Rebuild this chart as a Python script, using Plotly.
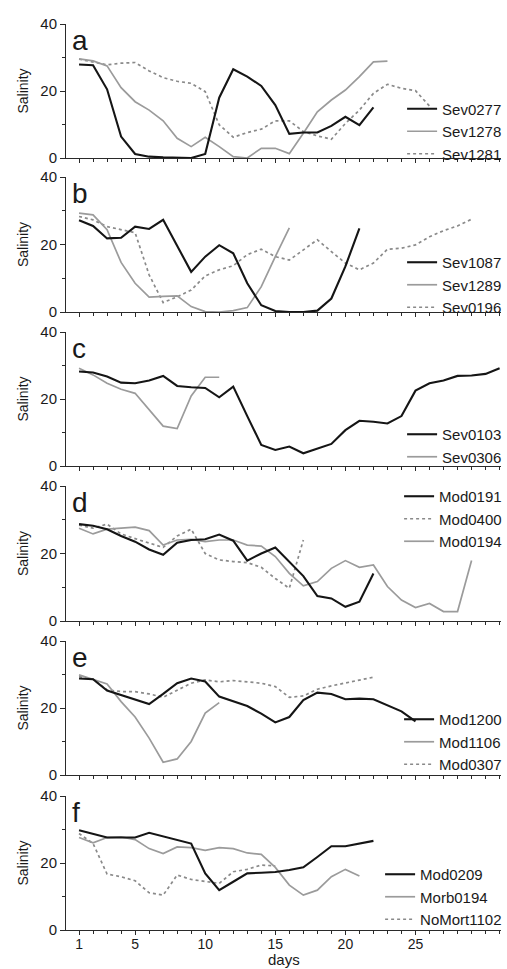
import plotly.graph_objects as go

# ---------------- data ----------------
days_max = 31
sev0277 = [27.9,27.7,20.5,6.4,1.2,0.4,0.2,0,0,1.2,18,26.5,24.3,21.5,15.8,7.2,7.6,7.6,9.6,12.3,9.8,15.1]
sev1278 = [29.6,29,27.5,21,16.8,14.3,11.1,5.9,3.4,6.2,3.4,0.4,0,2.9,2.9,1.3,7.4,13.8,17.3,20.3,24.3,28.7,28.9]
sev1281 = [29.5,28.7,27.8,28.3,28.5,26,24,22.9,22.3,19.8,9.9,6.2,7.6,8.6,11.1,11.1,7.9,6.6,5.6,10.3,14.3,19.3,22,20.8,20.1,15.5]

sev1087 = [27.2,25.5,21.8,22,25.3,24.6,27.3,19.4,11.9,16.4,19.8,17.4,8.5,2,0.3,0,0,0.4,4,13.5,24.8]
sev1289 = [29.3,28.8,24.4,14.7,8.5,4.4,4.6,4.8,1.6,0.1,0,0.4,1.3,7.5,16.4,24.9]
sev0196 = [28.3,27.3,25.3,24.3,23.5,11,2.8,4.5,6.5,10.7,12.5,13.7,17,18.6,16.4,15.4,18.4,21.4,17.9,14.5,12.5,14.5,18.6,18.9,19.9,22.3,24.1,25.5,27.5]

sev0103 = [28.2,27.9,26.7,24.9,24.7,25.5,26.9,23.9,23.5,23.3,20.5,23.7,14.9,6.3,4.8,5.8,3.8,5.3,6.6,10.7,13.5,13.2,12.7,14.9,22.5,24.7,25.5,26.9,27,27.5,29.2]
sev0306 = [29.2,27.2,24.7,22.9,21.7,16.7,11.9,11.2,20.9,26.5,26.5]

mod0191 = [28.7,28.2,27.2,25.2,23.5,21.2,19.6,23.2,24,24.2,25.6,23.8,17.9,20,21.8,17.6,13.3,7.4,6.7,4.2,5.7,14.1]
mod0400 = [28.4,27.5,28.7,25.8,24.4,23,21.8,25.2,27.2,20,18.1,17.6,17.3,15.9,12.6,9.7,24]
mod0194 = [27.5,25.8,27.2,27.4,27.8,26.8,22.5,24,24.2,23.5,24,24,22.5,22.2,19.1,14.1,10.4,11.7,15.6,17.9,15.9,16.6,10.2,6.2,4,5.2,2.8,2.8,17.9]

mod1200 = [28.8,28.6,25.2,23.9,22.4,21.2,24.2,27.4,28.8,27.9,23.4,21.9,20.6,18.3,15.7,17.3,22.4,24.6,24.2,22.6,22.8,22.6,20.9,19,16]
mod1106 = [29.9,28.6,27.2,21.9,17.3,11,3.8,4.8,10,18.5,21.6]
mod0307 = [29.4,28.6,25.4,24.9,24.9,24.2,23.2,25.4,27.4,28.4,27.8,28.2,27.8,27.4,26.4,23.2,23.6,25.6,26.6,27.4,28.2,29.2]

mod0209 = [29.8,28.6,27.6,27.6,27.6,29,28,27,25.8,16.9,11.9,14.4,16.9,17.1,17.3,17.9,18.7,21.8,25,25,25.8,26.6]
morb0194 = [27.6,26,27.6,27.8,27,24.3,22.8,24.8,24.6,23.8,24.6,24.3,23,22.6,18.7,13.4,10.4,11.9,15.9,18.1,16.1]
nomort1102 = [28.8,25.8,16.7,15.9,14.7,11.1,10.4,16.4,15.1,14.4,13.9,17.4,18.1,19.4,19.1]

panel_letters = ["a", "b", "c", "d", "e", "f"]
x_tick_vals = [1, 5, 10, 15, 20, 25, 30]
x_tick_text = ["1", "5", "10", "15", "20", "25", ""]
y_tick_vals = [0, 20, 40]

# (name, values, style) per panel, in legend order
panels = [
    [("Sev0277", sev0277, "black"), ("Sev1278", sev1278, "gray"), ("Sev1281", sev1281, "dot")],
    [("Sev1087", sev1087, "black"), ("Sev1289", sev1289, "gray"), ("Sev0196", sev0196, "dot")],
    [("Sev0103", sev0103, "black"), ("Sev0306", sev0306, "gray")],
    [("Mod0191", mod0191, "black"), ("Mod0400", mod0400, "dot"), ("Mod0194", mod0194, "gray")],
    [("Mod1200", mod1200, "black"), ("Mod1106", mod1106, "gray"), ("Mod0307", mod0307, "dot")],
    [("Mod0209", mod0209, "black"), ("Morb0194", morb0194, "gray"), ("NoMort1102", nomort1102, "dot")],
]

# ---------------- layout geometry (pixels) ----------------
W, H = 507, 969
ML, MR, MT, MB = 66, 6, 24, 39
plot_h = H - MT - MB
panel_px = [(24, 158), (177, 312), (332, 466), (486, 621), (641, 775), (796, 930)]
legend_mid_px = [131.5, 285, 445.5, 519, 742, 897]

styles = {
    "black": dict(color="#151515", width=2.1),
    "gray": dict(color="#9b9b9b", width=1.7),
    "dot": dict(color="#8a8a8a", width=1.7, dash="dot"),
}
draw_order = {"dot": 0, "gray": 1, "black": 2}

FONT = "Liberation Sans, Arial, sans-serif"
AX = "#2a2a2a"

fig = go.Figure()
layout = dict(
    width=W, height=H,
    margin=dict(l=ML, r=MR, t=MT, b=MB, autoexpand=False),
    paper_bgcolor="white", plot_bgcolor="white",
    font=dict(family=FONT, size=15, color="#1a1a1a"),
    showlegend=True,
)
annotations = []

for i, series in enumerate(panels):
    k = "" if i == 0 else str(i + 1)
    leg = "legend" + k
    top, bot = panel_px[i]
    dom = [(H - MB - bot) / plot_h, (H - MB - top) / plot_h]
    ordered = sorted(enumerate(series), key=lambda t: draw_order[t[1][2]])
    for rank, (name, vals, st) in ordered:
        fig.add_trace(go.Scatter(
            x=list(range(1, len(vals) + 1)), y=vals, name=name, mode="lines",
            line=styles[st], xaxis="x" + k, yaxis="y" + k, legend=leg,
            legendrank=rank + 1,
        ))
    layout["xaxis" + k] = dict(
        domain=[0, 1], anchor="y" + k, range=[0.07, 31.1],
        showline=True, linecolor=AX, linewidth=1, mirror=False,
        ticks="outside", ticklen=4, tickwidth=1, tickcolor=AX,
        tickmode="array", tickvals=x_tick_vals, ticktext=x_tick_text,
        ticklabelstandoff=-3,
        minor=dict(tickmode="array", tickvals=list(range(1, days_max + 1)),
                   ticks="outside", ticklen=3, tickwidth=1, tickcolor=AX),
        showticklabels=(i == 5), showgrid=False, zeroline=False,
        tickfont=dict(size=14), automargin=False,
    )
    if i > 0:
        layout["xaxis" + k]["matches"] = "x"
    layout["yaxis" + k] = dict(
        domain=dom, anchor="x" + k, range=[0, 40],
        showline=True, linecolor=AX, linewidth=1,
        ticks="outside", ticklen=5, tickwidth=1, tickcolor=AX,
        tickmode="array", tickvals=y_tick_vals,
        minor=dict(tickmode="array", tickvals=[10, 30], ticks="outside",
                   ticklen=3, tickwidth=1, tickcolor=AX),
        showgrid=False, zeroline=False, tickfont=dict(size=15),
        title=dict(text="Salinity", font=dict(size=14), standoff=8),
        automargin=False,
    )
    layout[leg] = dict(
        x=1.014, xanchor="right",
        y=(H - MB - legend_mid_px[i]) / plot_h, yanchor="middle",
        bgcolor="rgba(0,0,0,0)", borderwidth=0,
        font=dict(size=15, color="#1a1a1a"), tracegroupgap=0,
        traceorder="normal",
    )
    annotations.append(dict(
        text=panel_letters[i], x=0.35, y=35, xref="x" + k, yref="y" + k,
        xanchor="left", yanchor="middle", showarrow=False,
        font=dict(size=28, color="#1a1a1a"),
    ))

annotations.append(dict(
    text="days", x=0.5, y=-(959 - (H - MB)) / plot_h, xref="paper", yref="paper",
    xanchor="center", yanchor="middle", showarrow=False,
    font=dict(size=15, color="#1a1a1a"),
))

layout["annotations"] = annotations
fig.update_layout(**layout)
fig.write_html("out.html")
